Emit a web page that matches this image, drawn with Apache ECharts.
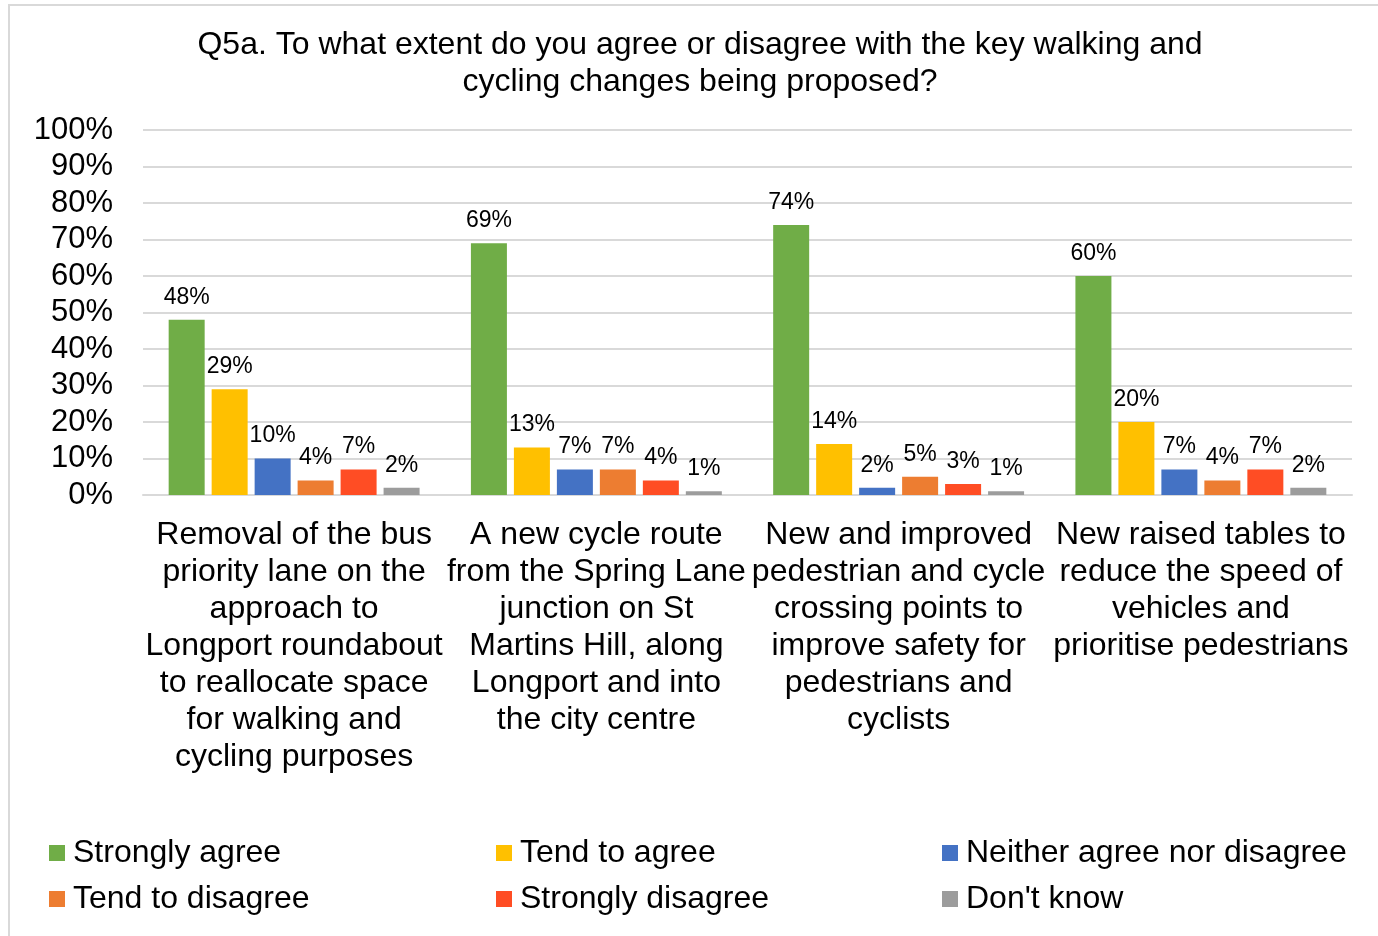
<!DOCTYPE html>
<html>
<head>
<meta charset="utf-8">
<script src="https://cdn.jsdelivr.net/npm/echarts@6/dist/echarts.min.js"></script>
<style>
  html, body { margin: 0; padding: 0; background: #fff; }
  #chart { width: 1378px; height: 936px; }
</style>
</head>
<body>
<div id="chart"></div>
<script>
// Proposals (axis categories, broken over lines as printed)
const categories = [
  'Removal of the bus\npriority lane on the\napproach to\nLongport roundabout\nto reallocate space\nfor walking and\ncycling purposes',
  'A new cycle route\nfrom the Spring Lane\njunction on St\nMartins Hill, along\nLongport and into\nthe city centre',
  'New and improved\npedestrian and cycle\ncrossing points to\nimprove safety for\npedestrians and\ncyclists',
  'New raised tables to\nreduce the speed of\nvehicles and\nprioritise pedestrians'
];

// Response options
const seriesNames = [
  'Strongly agree',
  'Tend to agree',
  'Neither agree nor disagree',
  'Tend to disagree',
  'Strongly disagree',
  "Don't know"
];

// Percentages per response, one value per proposal
const stronglyAgree    = [48, 69, 74, 60];
const tendToAgree      = [29, 13, 14, 20];
const neither          = [10, 7, 2, 7];
const tendToDisagree   = [4, 7, 5, 4];
const stronglyDisagree = [7, 4, 3, 7];
const dontKnow         = [2, 1, 1, 2];

const yTicks = [0, 10, 20, 30, 40, 50, 60, 70, 80, 90, 100];

const colors = ['#70AD47', '#FFC000', '#4472C4', '#ED7D31', '#FF4D24', '#9C9C9C'];
const values = [stronglyAgree, tendToAgree, neither, tendToDisagree, stronglyDisagree, dontKnow];

const FONT = '"Liberation Sans", Arial, sans-serif';

const chart = echarts.init(document.getElementById('chart'), null, { renderer: 'canvas' });

// Legend laid out as a 3 x 2 grid, one legend per entry
const legendLeft = [49, 496, 942];
const legendTop = [837, 883];
const legends = seriesNames.map((name, i) => ({
  show: true,
  data: [name],
  left: legendLeft[i % 3],
  top: legendTop[Math.floor(i / 3)],
  padding: 0,
  itemWidth: 16,
  itemHeight: 16,
  icon: 'rect',
  selectedMode: false,
  textStyle: { fontFamily: FONT, fontSize: 32, color: '#000', padding: [0, 0, 0, 3] }
}));

const option = {
  animation: false,
  backgroundColor: '#fff',
  color: colors,
  graphic: [{
    type: 'rect',
    shape: { x: 9, y: 5, width: 1400, height: 960 },
    style: { fill: 'none', stroke: '#D9D9D9', lineWidth: 2 },
    silent: true
  }],
  title: {
    text: 'Q5a. To what extent do you agree or disagree with the key walking and\ncycling changes being proposed?',
    left: 700,
    top: 27,
    padding: 0,
    textAlign: 'center',
    textStyle: {
      fontFamily: FONT, fontSize: 32, fontWeight: 'normal', color: '#000',
      lineHeight: 37, align: 'center'
    }
  },
  legend: legends,
  grid: { left: 143, right: 26, top: 130, bottom: 441, containLabel: false },
  xAxis: {
    type: 'category',
    data: categories,
    axisLine: { show: true, lineStyle: { color: '#D9D9D9', width: 2 } },
    axisTick: { show: false },
    axisLabel: {
      interval: 0,
      margin: 22,
      fontFamily: FONT, fontSize: 32, color: '#000', lineHeight: 37, align: 'center'
    }
  },
  yAxis: {
    type: 'value',
    min: yTicks[0],
    max: yTicks[yTicks.length - 1],
    interval: 10,
    axisLine: { show: false },
    axisTick: { show: false },
    splitLine: { lineStyle: { color: '#D9D9D9', width: 2 } },
    axisLabel: {
      margin: 30,
      formatter: '{value}%',
      fontFamily: FONT, fontSize: 31, color: '#000'
    }
  },
  series: seriesNames.map((name, i) => ({
    name: name,
    type: 'bar',
    data: values[i],
    barWidth: 36,
    barGap: '19.4%',
    itemStyle: { color: colors[i] },
    label: {
      show: true,
      position: 'top',
      distance: 11,
      formatter: '{c}%',
      fontFamily: FONT, fontSize: 23, color: '#000'
    }
  }))
};

chart.setOption(option);
</script>
</body>
</html>
